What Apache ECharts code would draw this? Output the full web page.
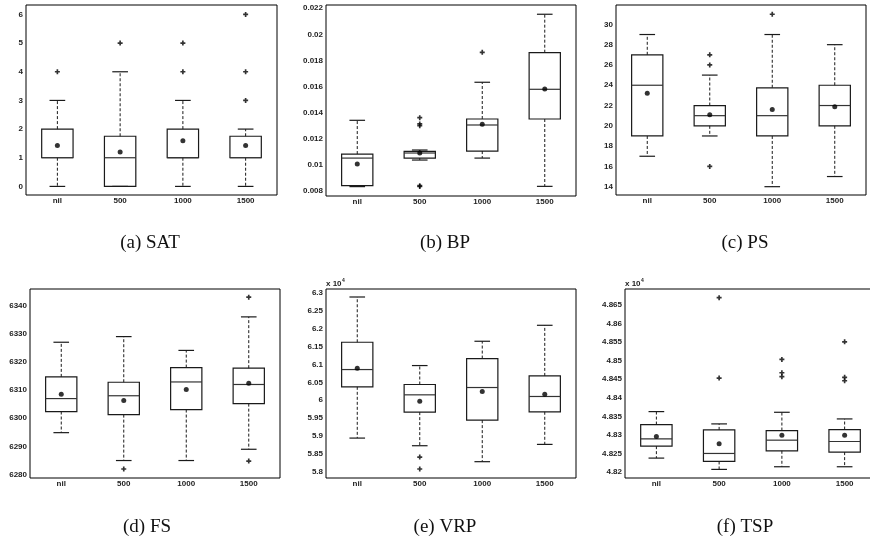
<!DOCTYPE html>
<html>
<head>
<meta charset="utf-8">
<script src="https://cdn.jsdelivr.net/npm/echarts@6/dist/echarts.min.js"></script>
<style>
	html, body { margin: 0; background: #fff; }
	#chart { width: 870px; height: 544px; }
</style>
</head>
<body>
<div id="chart"></div>
<script>
const categories = ['nil', '500', '1000', '1500']

// Box rows: [low whisker, Q1, median, Q3, high whisker] per category
// Outliers: [category index, value]

// (a) SAT
const satBoxes = [[0, 1, 1, 2, 3], [0, 0, 1, 1.75, 4], [0, 1, 1, 2, 3], [0, 1, 1, 1.75, 2]]
const satMeans = [1.43, 1.2, 1.59, 1.43]
const satOutliers = [[0, 4], [1, 5], [2, 4], [2, 5], [3, 3], [3, 4], [3, 6]]
const satTicks = [0, 1, 2, 3, 4, 5, 6]

// (b) BP
const bpBoxes = [
	[0.00831, 0.00838, 0.0105, 0.01081, 0.0134],
	[0.01035, 0.0105, 0.01089, 0.01102, 0.01112],
	[0.0105, 0.01104, 0.01304, 0.0135, 0.01632],
	[0.00833, 0.0135, 0.01578, 0.01859, 0.02154],
]
const bpMeans = [0.01005, 0.01089, 0.01309, 0.0158]
const bpOutliers = [[1, 0.0136], [1, 0.01312], [1, 0.01299], [1, 0.00838], [1, 0.00832], [2, 0.01862]]
const bpTicks = [0.008, 0.01, 0.012, 0.014, 0.016, 0.018, 0.02, 0.022]

// (c) PS
const psBoxes = [[17, 19, 24, 27, 29], [19, 20, 21, 22, 25], [14, 19, 21, 23.75, 29], [15, 20, 22, 24, 28]]
const psMeans = [23.2, 21.1, 21.6, 21.88]
const psOutliers = [[1, 27], [1, 26], [1, 16], [2, 31]]
const psTicks = [14, 16, 18, 20, 22, 24, 26, 28, 30]

// (d) FS
const fsBoxes = [
	[6294.9, 6302.4, 6307, 6314.7, 6327],
	[6285, 6301.3, 6308, 6312.8, 6329],
	[6285, 6303.1, 6312.9, 6318, 6324.1],
	[6289, 6305.2, 6312, 6317.8, 6336],
]
const fsMeans = [6308.5, 6306.3, 6310.2, 6312.4]
const fsOutliers = [[1, 6282], [3, 6343], [3, 6284.8]]
const fsTicks = [6280, 6290, 6300, 6310, 6320, 6330, 6340]

// (e) VRP, x 10^4
const vrpBoxes = [
	[5.8946, 6.0375, 6.0857, 6.1618, 6.288],
	[5.8733, 5.967, 6.0152, 6.044, 6.0968],
	[5.8288, 5.9447, 6.0356, 6.1163, 6.1646],
	[5.877, 5.9679, 6.0106, 6.068, 6.2091],
]
const vrpMeans = [6.0894, 5.9976, 6.0245, 6.0171]
const vrpOutliers = [[1, 5.8417], [1, 5.8083]]
const vrpTicks = [5.8, 5.85, 5.9, 5.95, 6, 6.05, 6.1, 6.15, 6.2, 6.25, 6.3]

// (f) TSP, x 10^4
const tspBoxes = [
	[4.82376, 4.82698, 4.82895, 4.83279, 4.83628],
	[4.82072, 4.82286, 4.82501, 4.83136, 4.83297],
	[4.82143, 4.82573, 4.82859, 4.83118, 4.8361],
	[4.82143, 4.82537, 4.82823, 4.83145, 4.83431],
]
const tspMeans = [4.82957, 4.8276, 4.82993, 4.82993]
const tspOutliers = [[1, 4.86697], [1, 4.84532], [2, 4.85033], [2, 4.84675], [2, 4.84568], [3, 4.85507], [3, 4.8455], [3, 4.8446]]
const tspTicks = [4.82, 4.825, 4.83, 4.835, 4.84, 4.845, 4.85, 4.855, 4.86, 4.865]

const panels = [
	{ boxes: satBoxes, means: satMeans, outliers: satOutliers, ticks: satTicks, min: -0.3, max: 6.33, grid: { left: 26, top: 5, width: 251, height: 190 }, caption: '(a) SAT', cx: 150, cy: 243 },
	{ boxes: bpBoxes, means: bpMeans, outliers: bpOutliers, ticks: bpTicks, min: 0.00759, max: 0.02225, grid: { left: 326, top: 5, width: 250, height: 191 }, caption: '(b) BP', cx: 445, cy: 243 },
	{ boxes: psBoxes, means: psMeans, outliers: psOutliers, ticks: psTicks, min: 13.18, max: 31.91, grid: { left: 616, top: 5, width: 250, height: 190 }, caption: '(c) PS', cx: 745, cy: 243 },
	{ boxes: fsBoxes, means: fsMeans, outliers: fsOutliers, ticks: fsTicks, min: 6278.8, max: 6345.9, grid: { left: 30, top: 289, width: 250, height: 189 }, caption: '(d) FS', cx: 147, cy: 527 },
	{ boxes: vrpBoxes, means: vrpMeans, outliers: vrpOutliers, ticks: vrpTicks, min: 5.7833, max: 6.3103, grid: { left: 326, top: 289, width: 250, height: 189 }, caption: '(e) VRP', cx: 445, cy: 527, exp: true },
	{ boxes: tspBoxes, means: tspMeans, outliers: tspOutliers, ticks: tspTicks, min: 4.8184, max: 4.8693, grid: { left: 625, top: 289, width: 251, height: 189 }, caption: '(f) TSP', cx: 745, cy: 527, exp: true },
]

const tickFont = { fontFamily: 'Liberation Sans', fontWeight: 'bold', fontSize: 8, color: '#222' }
const plusSymbol = 'path://M2,0H4V2H6V4H4V6H2V4H0V2H2Z'

// MATLAB style box: solid box and caps, dashed whiskers
renderBox = (params, api) => {
	const k = api.value(0)
	const low = api.coord([k, api.value(1)])
	const q1 = api.coord([k, api.value(2)])
	const med = api.coord([k, api.value(3)])
	const q3 = api.coord([k, api.value(4)])
	const high = api.coord([k, api.value(5)])
	const band = api.size([1, 0])[0]
	const half = band * 0.25
	const cap = band * 0.125
	const x = low[0]
	const solid = { stroke: '#1a1a1a', lineWidth: 1.2 }
	const dashed = { stroke: '#1a1a1a', lineWidth: 1, lineDash: [3, 2] }
	return {
		type: 'group',
		children: [
			{ type: 'line', shape: { x1: x, y1: q3[1], x2: x, y2: high[1] }, style: dashed },
			{ type: 'line', shape: { x1: x, y1: q1[1], x2: x, y2: low[1] }, style: dashed },
			{ type: 'line', shape: { x1: x - cap, y1: high[1], x2: x + cap, y2: high[1] }, style: solid },
			{ type: 'line', shape: { x1: x - cap, y1: low[1], x2: x + cap, y2: low[1] }, style: solid },
			{ type: 'rect', shape: { x: x - half, y: q3[1], width: half * 2, height: q1[1] - q3[1] }, style: { fill: 'none', stroke: '#1a1a1a', lineWidth: 1.2 } },
			{ type: 'line', shape: { x1: x - half, y1: med[1], x2: x + half, y2: med[1] }, style: { stroke: '#333', lineWidth: 1.2 } },
		],
	}
}

const option = { animation: false, grid: [], xAxis: [], yAxis: [], series: [], graphic: [] }

panels.forEach((p, i) => {
	option.grid.push(Object.assign({}, p.grid, { show: true, borderColor: '#000', borderWidth: 1, containLabel: false, outerBoundsMode: 'none' }))

	option.xAxis.push({
		type: 'category',
		gridIndex: i,
		data: categories,
		boundaryGap: true,
		axisLine: { show: false },
		axisTick: { show: false },
		axisLabel: Object.assign({ margin: 2 }, tickFont),
	})

	const yBase = {
		type: 'value',
		gridIndex: i,
		min: p.min,
		max: p.max,
		axisLine: { show: false },
		splitLine: { show: false },
		axisTick: { inside: true, length: 3, customValues: p.ticks, lineStyle: { color: '#000' } },
	}
	option.yAxis.push(Object.assign({}, yBase, {
		position: 'left',
		axisLabel: Object.assign({ customValues: p.ticks, formatter: (v) => String(v), margin: 3 }, tickFont),
	}))
	option.yAxis.push(Object.assign({}, yBase, { position: 'right', axisLabel: { show: false } }))

	option.series.push({
		type: 'custom',
		xAxisIndex: i,
		yAxisIndex: i * 2,
		renderItem: renderBox,
		encode: { x: 0, y: [1, 2, 3, 4, 5] },
		data: p.boxes.map((b, k) => [k].concat(b)),
		z: 2,
	})
	option.series.push({
		type: 'scatter',
		xAxisIndex: i,
		yAxisIndex: i * 2,
		symbol: plusSymbol,
		symbolSize: 5,
		itemStyle: { color: '#000' },
		data: p.outliers,
		z: 3,
	})
	option.series.push({
		type: 'scatter',
		xAxisIndex: i,
		yAxisIndex: i * 2,
		symbol: 'circle',
		symbolSize: 5,
		itemStyle: { color: '#000' },
		data: p.means.map((m, k) => [k, m]),
		z: 4,
	})

	// Subfigure caption
	option.graphic.push({
		type: 'text',
		x: p.cx,
		y: p.cy,
		style: { text: p.caption, fontFamily: 'Liberation Serif', fontSize: 19, fill: '#111', align: 'center', verticalAlign: 'middle' },
	})

	// Exponent label above the axis
	if (p.exp) {
		option.graphic.push({
			type: 'text',
			x: p.grid.left,
			y: p.grid.top - 5,
			style: { text: 'x 10', fontFamily: 'Liberation Sans', fontWeight: 'bold', fontSize: 8, fill: '#222', verticalAlign: 'middle' },
		})
		option.graphic.push({
			type: 'text',
			x: p.grid.left + 16,
			y: p.grid.top - 8,
			style: { text: '4', fontFamily: 'Liberation Sans', fontWeight: 'bold', fontSize: 5, fill: '#222', verticalAlign: 'middle' },
		})
	}
})

const chart = echarts.init(document.getElementById('chart'))
chart.setOption(option)
</script>
</body>
</html>
